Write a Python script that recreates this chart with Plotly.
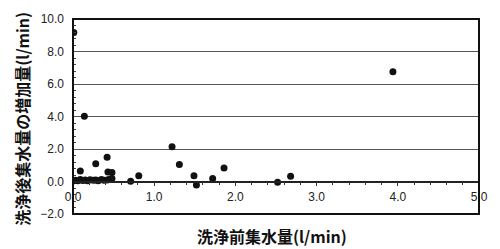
import plotly.graph_objects as go

# Data
before_flow = [0.01, 0.14, 0.00, 0.03, 0.06, 0.09, 0.12, 0.15, 0.18, 0.21, 0.25, 0.28, 0.31, 0.35, 0.38, 0.42, 0.45, 0.48,
               0.09, 0.28, 0.42, 0.43, 0.48, 0.71, 0.81, 1.22, 1.31, 1.49, 1.52, 1.72, 1.86, 2.52, 2.68, 3.94]
increase = [9.17, 4.02, 0.03, 0.08, 0.05, 0.12, 0.06, 0.10, 0.04, 0.11, 0.07, 0.09, 0.05, 0.12, 0.08, 0.10, 0.14, 0.18,
            0.65, 1.10, 1.49, 0.59, 0.55, 0.02, 0.35, 2.14, 1.04, 0.35, -0.21, 0.19, 0.83, -0.05, 0.33, 6.76]

x_title = "洗浄前集水量(l/min)"
y_title = "洗浄後集水量の増加量(l/min)"

fig = go.Figure()
fig.add_trace(go.Scatter(
    x=before_flow, y=increase, mode="markers",
    marker=dict(color="#111111", size=7),
    showlegend=False, hoverinfo="skip",
))

tick_font = dict(family="Arial, Liberation Sans, sans-serif", size=12, color="#222222")

fig.update_layout(
    width=500, height=249,
    margin=dict(l=73, r=21, t=15, b=35),
    paper_bgcolor="white", plot_bgcolor="white",
    xaxis=dict(
        range=[0, 5], dtick=1, tickformat=".1f",
        anchor="free", position=1/6,
        showgrid=False, zeroline=False,
        showline=True, linecolor="#222222", linewidth=1.5,
        ticks="outside", ticklen=4, tickcolor="#333333", tickwidth=1,
        minor=dict(dtick=0.2, ticks="outside", ticklen=3, tickcolor="#333333", showgrid=False),
        tickfont=tick_font,
    ),
    yaxis=dict(
        range=[-2, 10], dtick=2, tickformat=".1f",
        domain=[0, 1],
        showgrid=True, gridcolor="#555555", gridwidth=1,
        zeroline=False,
        showline=False,
        ticks="", ticklabelstandoff=8,
        minor=dict(dtick=0.4, ticks="inside", ticklen=3, tickcolor="#444444", showgrid=False),
        tickfont=tick_font,
    ),
    shapes=[
        dict(type="rect", xref="paper", yref="paper", x0=0, y0=0, x1=1, y1=1,
             line=dict(color="#111111", width=2), fillcolor="rgba(0,0,0,0)", layer="above"),
    ],
    annotations=[
        dict(text=x_title, xref="paper", yref="paper", x=0.49, y=-0.115,
             xanchor="center", yanchor="middle", showarrow=False,
             font=dict(family="Noto Sans CJK JP", size=16, color="#111111", weight="bold")),
        dict(text=y_title, xref="paper", yref="paper", x=-0.125, y=0.49,
             xanchor="center", yanchor="middle", showarrow=False, textangle=-90,
             font=dict(family="Noto Sans CJK JP", size=16, color="#111111", weight="bold")),
    ],
)

fig.write_html("out.html")
